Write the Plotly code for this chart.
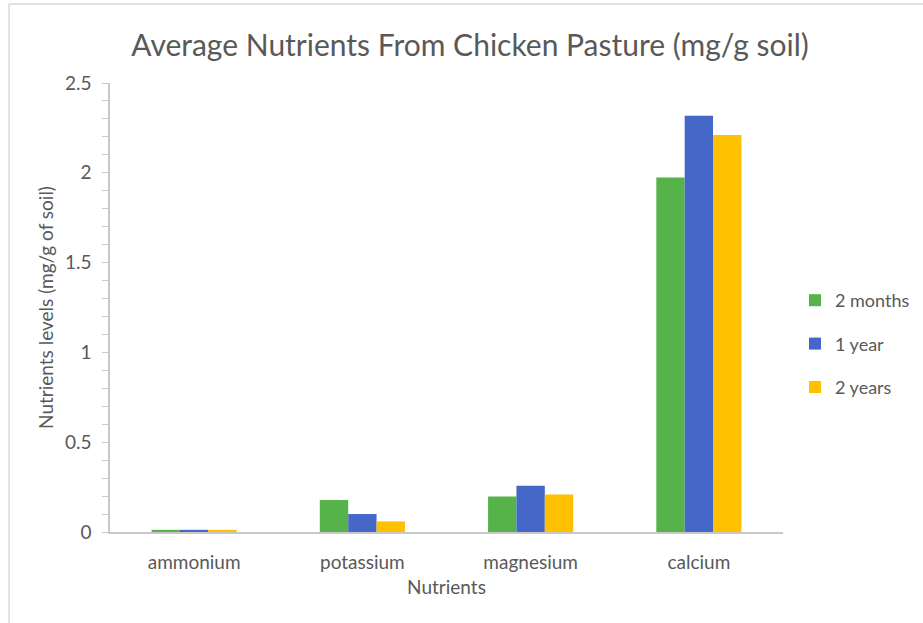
import plotly.graph_objects as go

categories = ["ammonium", "potassium", "magnesium", "calcium"]
series_names = ["2 months", "1 year", "2 years"]
two_months = [0.012, 0.178, 0.198, 1.974]
one_year = [0.012, 0.100, 0.258, 2.318]
two_years = [0.012, 0.059, 0.209, 2.210]
colors = ["#56B34A", "#4567C8", "#FEC000"]

TXT = "#595959"
FONT = "Lato"
FS = 19

fig = go.Figure()
for i, (name, vals) in enumerate(zip(series_names, [two_months, one_year, two_years])):
    fig.add_trace(go.Bar(x=categories, y=vals, name=name, marker_color=colors[i],
                         marker_line_width=0, legendgroup=name))

W, H = 923, 623
L, R, T, B = 110, 140, 83, 91
pw, ph = W - L - R, H - T - B

def px2x(px):
    return (px - L) / pw

def py2y(py):
    return (H - B - py) / ph

fig.update_layout(
    width=W, height=H,
    margin=dict(l=L, r=R, t=T, b=B, autoexpand=False),
    paper_bgcolor="white", plot_bgcolor="white",
    font=dict(family=FONT, color=TXT, size=FS),
    title=dict(text="Average Nutrients From Chicken Pasture (mg/g soil)",
               x=470 / W, xanchor="center",
               y=1 - 45 / H, yanchor="middle",
               font=dict(size=30, color=TXT, family=FONT)),
    barmode="group", bargap=0.494, bargroupgap=0,
    legend=dict(x=px2x(795), xanchor="left", y=py2y(344), yanchor="middle",
                font=dict(size=18, color=TXT), traceorder="grouped",
                tracegroupgap=17, itemwidth=30, bgcolor="rgba(0,0,0,0)"),
    xaxis=dict(showline=True, linecolor="#C8C8C8", linewidth=1.5, ticks="",
               title=dict(text="Nutrients", standoff=9, font=dict(size=FS, color=TXT)),
               tickfont=dict(size=FS, color=TXT), showgrid=False, ticklabelstandoff=12),
    yaxis=dict(range=[0, 2.5], dtick=0.5, showline=True, linecolor="#C8C8C8", linewidth=1.5,
               ticks="outside", ticklen=6, tickcolor="#C8C8C8", tickwidth=1,
               minor=dict(dtick=0.1, ticks="outside", ticklen=6, tickcolor="#C8C8C8"),
               showgrid=False, zeroline=False, ticklabelstandoff=7,
               tickfont=dict(size=FS, color=TXT),
               title=dict(text="Nutrients levels (mg/g of soil)", standoff=6,
                          font=dict(size=FS, color=TXT))),
)

# outer frame of the original chart image
fig.add_shape(type="line", xref="paper", yref="paper",
              x0=px2x(9), x1=px2x(923), y0=py2y(4), y1=py2y(4),
              line=dict(color="#DADADA", width=1.5))
fig.add_shape(type="line", xref="paper", yref="paper",
              x0=px2x(9), x1=px2x(9), y0=py2y(4), y1=py2y(623),
              line=dict(color="#DADADA", width=1.5))

fig.write_html("out.html")
